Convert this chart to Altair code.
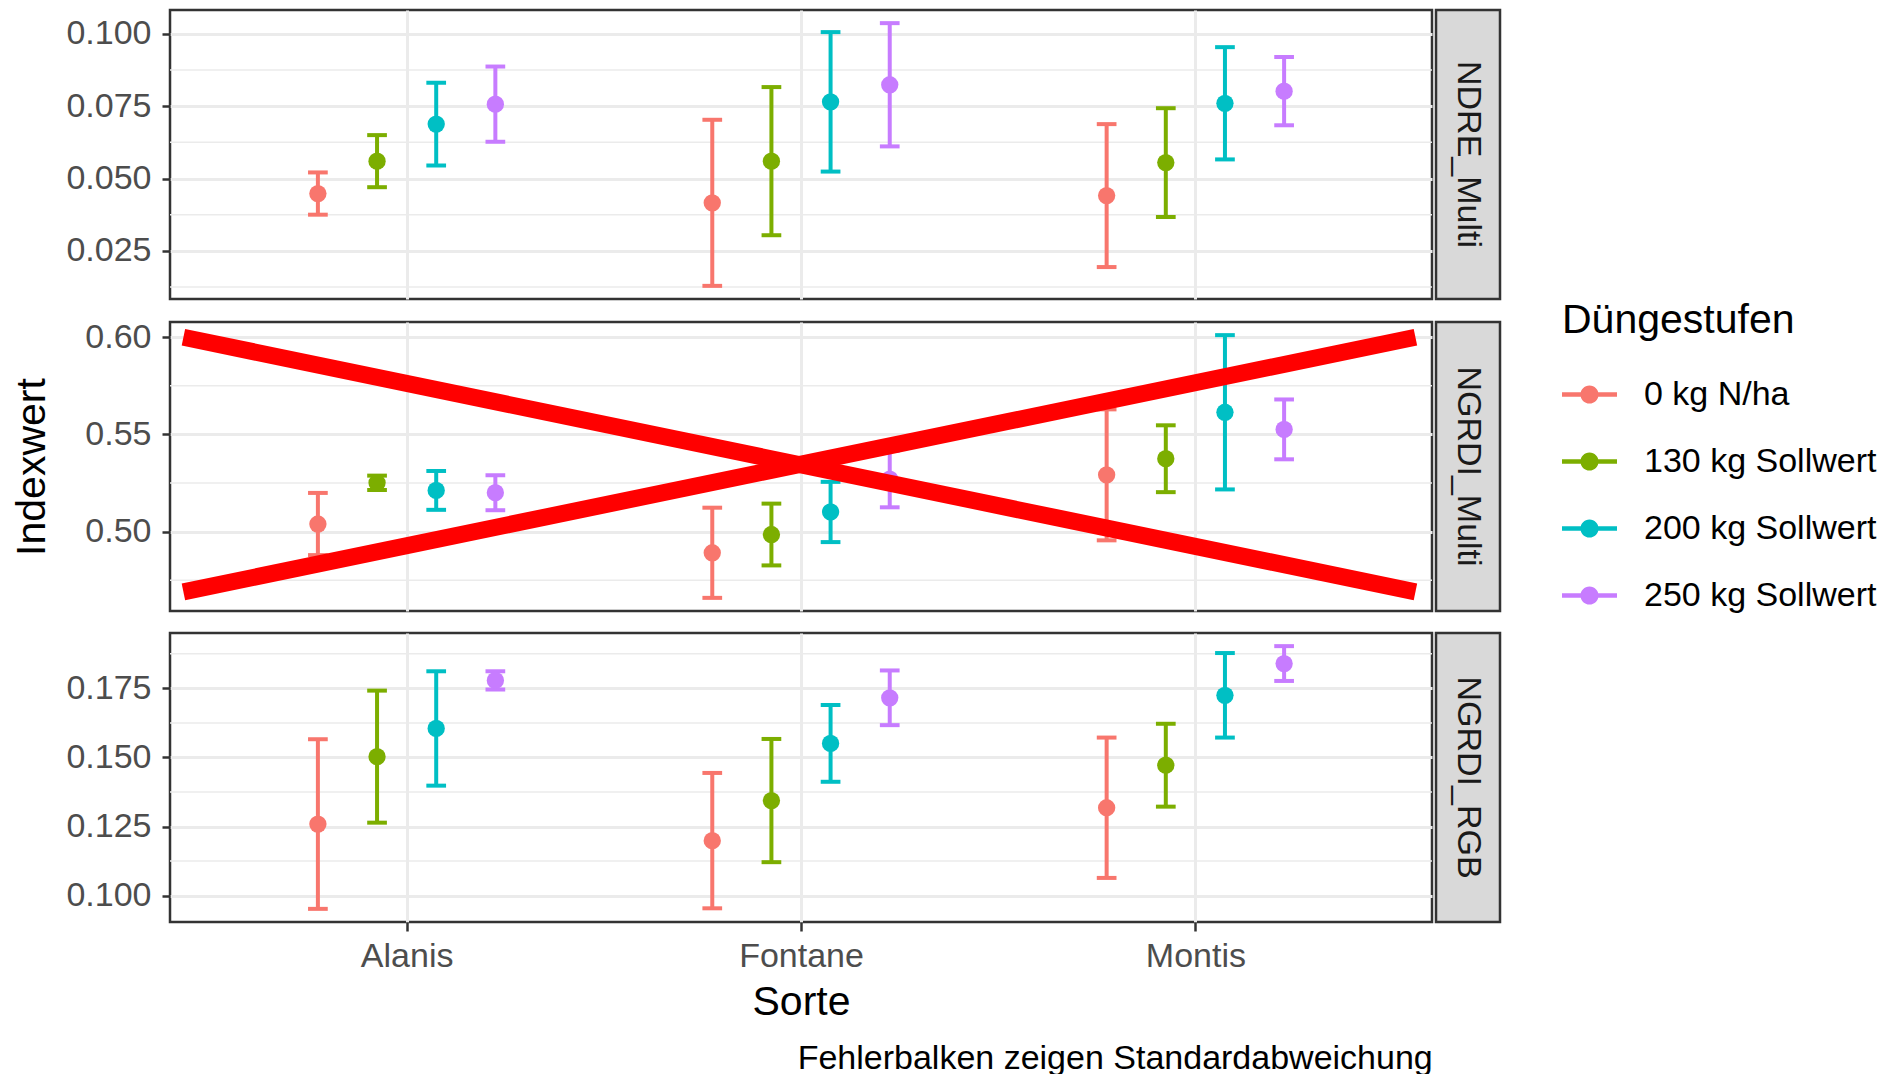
import altair as alt
import pandas as pd

# ---------------- data ----------------
sorten = ["Alanis", "Fontane", "Montis"]
stufen = ["0 kg N/ha", "130 kg Sollwert", "200 kg Sollwert", "250 kg Sollwert"]
farben = ["#F8766D", "#7CAE00", "#00BFC4", "#C77CFF"]
indizes = ["NDRE_Multi", "NGRDI_Multi", "NGRDI_RGB"]

# Mittelwerte, Reihenfolge: Alanis (4 Stufen), Fontane (4), Montis (4)
ndre_multi_mittel = [0.0448, 0.0560, 0.0688, 0.0757,
                     0.0416, 0.0560, 0.0765, 0.0824,
                     0.0441, 0.0555, 0.0760, 0.0802]
ndre_multi_sd = [0.0073, 0.0090, 0.0143, 0.0130,
                 0.0287, 0.0256, 0.0241, 0.0213,
                 0.0247, 0.0188, 0.0194, 0.0118]

ngrdi_multi_mittel = [0.5039, 0.5251, 0.5212, 0.5200,
                      0.4891, 0.4985, 0.5101, 0.5270,
                      0.5292, 0.5375, 0.5614, 0.5526]
ngrdi_multi_sd = [0.0160, 0.0037, 0.0100, 0.0090,
                  0.0232, 0.0159, 0.0155, 0.0145,
                  0.0337, 0.0172, 0.0397, 0.0154]

ngrdi_rgb_mittel = [0.1259, 0.1503, 0.1605, 0.1779,
                    0.1199, 0.1344, 0.1551, 0.1716,
                    0.1318, 0.1472, 0.1725, 0.1840]
ngrdi_rgb_sd = [0.0307, 0.0239, 0.0207, 0.0033,
                0.0245, 0.0223, 0.0139, 0.0099,
                0.0254, 0.0150, 0.0153, 0.0063]

# Achsenbeschriftung
ndre_ticks = [0.025, 0.050, 0.075, 0.100]
ndre_minor = [0.0125, 0.0375, 0.0625, 0.0875]
ngrdi_multi_ticks = [0.50, 0.55, 0.60]
ngrdi_multi_minor = [0.475, 0.525, 0.575]
ngrdi_rgb_ticks = [0.100, 0.125, 0.150, 0.175]
ngrdi_rgb_minor = [0.1125, 0.1375, 0.1625, 0.1875]

# rotes Kreuz (Annotation im mittleren Panel), in Datenkoordinaten
kreuz_x0 = [0.434, 0.434]
kreuz_y0 = [0.600, 0.469]
kreuz_x1 = [3.558, 3.558]
kreuz_y1 = [0.469, 0.600]

x_titel = "Sorte"
y_titel = "Indexwert"
legenden_titel = "Düngestufen"
fussnote = "Fehlerbalken zeigen Standardabweichung"

# ---------------- styling ----------------
FONT = "Liberation Sans"
PANEL_W = 1262
PANEL_H = 289
STRIP_W = 64
DODGE = 0.15
CAP = 0.025
GRID = "#EBEBEB"
DARK = "#333333"

legend_symbol = ("M-1,-0.08L1,-0.08L1,0.08L-1,0.08Z "
                 "M0.33,0A0.33,0.33 0 1,1 -0.33,0A0.33,0.33 0 1,1 0.33,0Z")

color_scale = alt.Scale(domain=stufen, range=farben)
legend = alt.Legend(
    title=legenden_titel, orient="none", legendX=1392, legendY=291,
    symbolType=legend_symbol, symbolSize=3025, symbolStrokeWidth=0,
    symbolOpacity=1, labelFontSize=34, labelColor="black", labelFont=FONT,
    titleFontSize=41, titleFontWeight="normal", titleColor="black", titleFont=FONT,
    rowPadding=22, labelOffset=27, titlePadding=25, labelLimit=500, titleLimit=500,
)

label_expr = "[" + ",".join(["''"] + [f"'{s}'" for s in sorten]) + "][datum.value]"


def build_df(mittel, sd):
    rows = []
    for si, sorte in enumerate(sorten):
        for ki, stufe in enumerate(stufen):
            i = si * len(stufen) + ki
            xpos = si + 1 + (ki - (len(stufen) - 1) / 2) * DODGE
            rows.append({
                "Sorte": sorte, "Stufe": stufe, "x": xpos,
                "xl": xpos - CAP, "xr": xpos + CAP,
                "m": mittel[i], "lo": mittel[i] - sd[i], "hi": mittel[i] + sd[i],
            })
    return pd.DataFrame(rows)


def panel(name, mittel, sd, ticks, minor, fmt, show_x, show_ytitle, kreuz=False):
    df = build_df(mittel, sd)
    lo, hi = df["lo"].min(), df["hi"].max()
    pad = 0.05 * (hi - lo)
    yscale = alt.Scale(domain=[lo - pad, hi + pad], nice=False, zero=False)
    xscale = alt.Scale(domain=[0.4, 3.6], nice=False, zero=False)
    yaxis = alt.Axis(
        values=ticks, format=fmt, grid=True, gridColor=GRID, gridWidth=3,
        tickColor=DARK, tickWidth=2.5, tickSize=8, labelPadding=11,
        labelFontSize=34, labelColor="#4D4D4D", labelFont=FONT, domain=False,
        minExtent=104, maxExtent=104, title=y_titel, titleFontSize=41,
        titleFontWeight="normal", titleColor="black", titleFont=FONT,
        titlePadding=13, titleOpacity=1 if show_ytitle else 0,
    )
    if show_x:
        xaxis = alt.Axis(
            values=[1, 2, 3], labelExpr=label_expr, grid=True, gridColor=GRID,
            gridWidth=3, tickColor=DARK, tickWidth=2.5, tickSize=9,
            labelPadding=8, labelFontSize=34, labelColor="#4D4D4D", labelFont=FONT,
            domain=False, title=x_titel, titleFontSize=41, titleFontWeight="normal",
            titleColor="black", titleFont=FONT, titlePadding=9,
        )
    else:
        xaxis = alt.Axis(values=[1, 2, 3], grid=True, gridColor=GRID, gridWidth=3,
                         labels=False, ticks=False, domain=False, title=None)

    col = alt.Color("Stufe:N", scale=color_scale, legend=legend)

    minor_layer = alt.Chart(pd.DataFrame({"v": minor})).mark_rule(
        color=GRID, strokeWidth=1.5
    ).encode(y=alt.Y("v:Q", scale=yscale, axis=yaxis))

    base = alt.Chart(df)
    xenc = alt.X("x:Q", scale=xscale, axis=xaxis)

    bars = base.mark_rule(strokeWidth=4).encode(
        x=xenc, y=alt.Y("lo:Q", scale=yscale, axis=yaxis), y2="hi:Q", color=col)
    cap_lo = base.mark_rule(strokeWidth=4).encode(
        x=alt.X("xl:Q", scale=xscale, axis=xaxis), x2="xr:Q",
        y=alt.Y("lo:Q", scale=yscale, axis=yaxis), color=col)
    cap_hi = base.mark_rule(strokeWidth=4).encode(
        x=alt.X("xl:Q", scale=xscale, axis=xaxis), x2="xr:Q",
        y=alt.Y("hi:Q", scale=yscale, axis=yaxis), color=col)
    points = base.mark_circle(size=300, opacity=1).encode(
        x=xenc, y=alt.Y("m:Q", scale=yscale, axis=yaxis), color=col)

    layers = [minor_layer, bars, cap_lo, cap_hi, points]
    if kreuz:
        kdf = pd.DataFrame({"x0": kreuz_x0, "y0": kreuz_y0, "x1": kreuz_x1, "y1": kreuz_y1})
        layers.append(alt.Chart(kdf).mark_rule(
            color="#FF0000", strokeWidth=17, strokeCap="butt"
        ).encode(
            x=alt.X("x0:Q", scale=xscale, axis=xaxis), x2="x1:Q",
            y=alt.Y("y0:Q", scale=yscale, axis=yaxis), y2="y1:Q"))

    chart = alt.layer(*layers).properties(
        width=PANEL_W, height=PANEL_H,
        view=alt.ViewBackground(fill="white", stroke=DARK, strokeWidth=2.5))
    if show_x:
        chart = chart.properties(title=alt.TitleParams(
            fussnote, orient="bottom", anchor="end", fontSize=34,
            fontWeight="normal", color="black", font=FONT, offset=20))

    strip = alt.Chart(pd.DataFrame({"t": [name]})).mark_text(
        angle=90, fontSize=34, color="#1A1A1A", font=FONT,
        align="center", baseline="middle"
    ).encode(text="t:N", x=alt.value(STRIP_W / 2), y=alt.value(PANEL_H / 2)).properties(
        width=STRIP_W, height=PANEL_H,
        view=alt.ViewBackground(fill="#D9D9D9", stroke=DARK, strokeWidth=2.5))

    return alt.hconcat(chart, strip, spacing=0)


row1 = panel(indizes[0], ndre_multi_mittel, ndre_multi_sd, ndre_ticks, ndre_minor,
             ".3f", False, False)
row2 = panel(indizes[1], ngrdi_multi_mittel, ngrdi_multi_sd, ngrdi_multi_ticks,
             ngrdi_multi_minor, ".2f", False, True, kreuz=True)
row3 = panel(indizes[2], ngrdi_rgb_mittel, ngrdi_rgb_sd, ngrdi_rgb_ticks,
             ngrdi_rgb_minor, ".3f", True, False)

chart = alt.vconcat(row1, row2, row3, spacing=18).properties(
    padding={"left": 1, "top": 0, "right": 0, "bottom": 0}
).configure(font=FONT).configure_view(stroke=DARK, strokeWidth=2.5)

chart.save("out.html", embed_options={"renderer": "svg", "actions": False})
